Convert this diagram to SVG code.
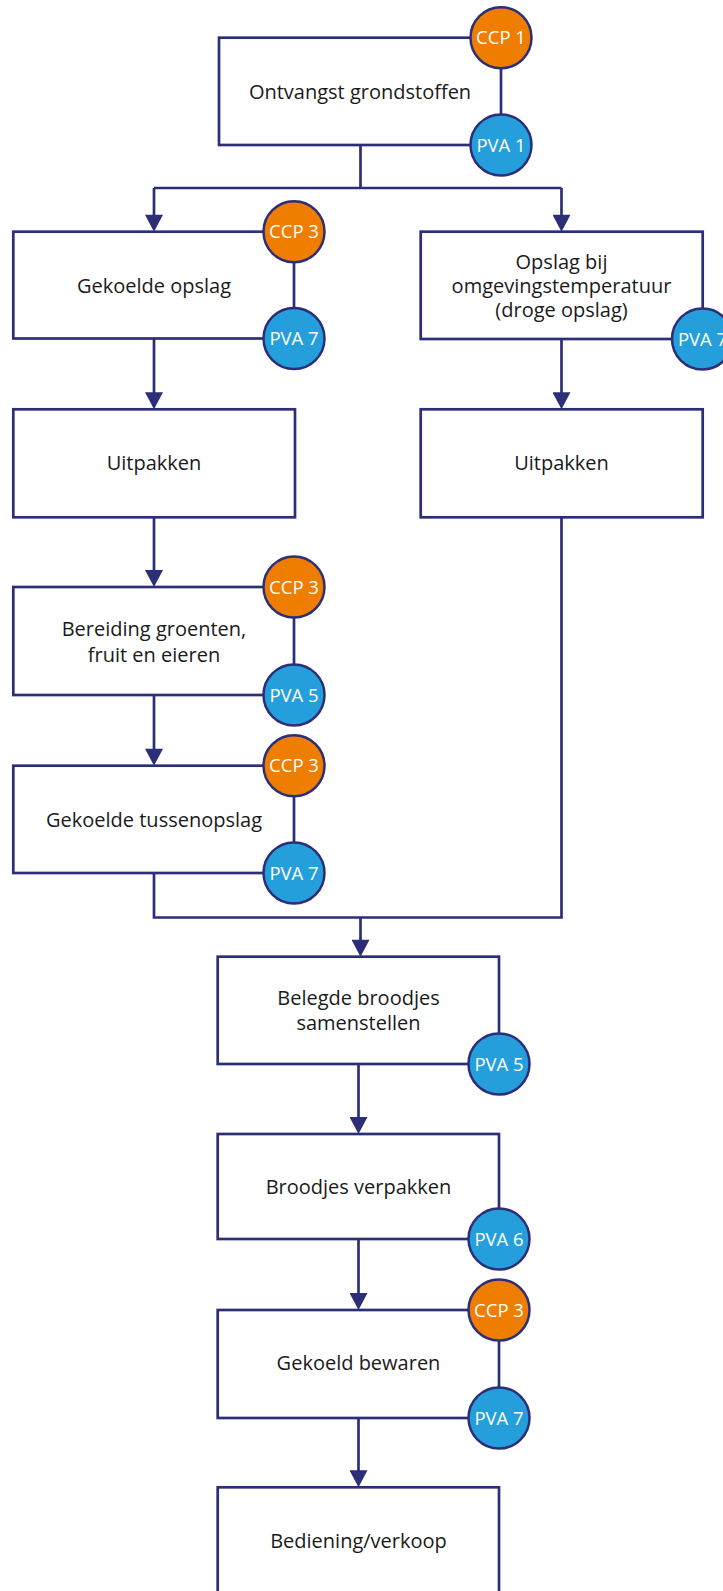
<svg xmlns="http://www.w3.org/2000/svg" width="723" height="1591" viewBox="0 0 723 1591">
<style>
.box{fill:#fff;stroke:#2c2e78;stroke-width:2.7}
.ln{fill:none;stroke:#2c2e78;stroke-width:2.7;marker-end:url(#ah)}
.ln2{fill:none;stroke:#2c2e78;stroke-width:2.7}
.ccp{fill:#ef7d00;stroke:#2c2e78;stroke-width:2.5}
.pva{fill:#249fdb;stroke:#2c2e78;stroke-width:2.5}
.t{font-family:"Open Sans","Liberation Sans",sans-serif;font-size:20px;fill:#1a1a1a;text-anchor:middle}
.c{font-family:"Open Sans","Liberation Sans",sans-serif;font-size:18.5px;fill:#fff;text-anchor:middle}
</style>
<defs>
<marker id="ah" markerUnits="userSpaceOnUse" markerWidth="18" markerHeight="18" viewBox="0 0 17 18" refX="13" refY="9" orient="auto">
<path d="M0,0 L17,9 L0,18 Z" fill="#2c2e78"/>
</marker>
</defs>
<rect width="723" height="1591" fill="#fff"/>
<g id="connectors">
<path class="ln2" d="M360.5,145 V188 M154,188 H561.5"/>
<path class="ln" d="M154,188 V227.7"/>
<path class="ln" d="M561.5,188 V227.7"/>
<path class="ln" d="M154,338.5 V405.3"/>
<path class="ln" d="M561.5,339 V405.3"/>
<path class="ln" d="M154,517.3 V583"/>
<path class="ln" d="M154,695 V761.7"/>
<path class="ln2" d="M154,873 V917.5 H561.5 V517.3"/>
<path class="ln" d="M360.5,917.5 V952.7"/>
<path class="ln" d="M358.5,1064 V1130"/>
<path class="ln" d="M358.5,1239 V1306"/>
<path class="ln" d="M358.5,1418 V1483.3"/>
</g>
<g id="n1">
<rect class="box" x="219" y="37.7" width="282" height="107.3"/>
<text class="t" x="360" y="98.5">Ontvangst grondstoffen</text>
<circle class="ccp" cx="501" cy="37.7" r="30.5"/><text class="c" x="501" y="44.2">CCP 1</text>
<circle class="pva" cx="501" cy="145" r="30.5"/><text class="c" x="501" y="151.5">PVA 1</text>
</g>
<g id="n2">
<rect class="box" x="13.3" y="231.7" width="280.7" height="106.8"/>
<text class="t" x="154" y="292.5">Gekoelde opslag</text>
<circle class="ccp" cx="294" cy="231.7" r="30.5"/><text class="c" x="294" y="238.2">CCP 3</text>
<circle class="pva" cx="294" cy="338.5" r="30.5"/><text class="c" x="294" y="345">PVA 7</text>
</g>
<g id="n3">
<rect class="box" x="420.7" y="231.7" width="282" height="107.3"/>
<text class="t" x="561.5" y="268.5">Opslag bij</text>
<text class="t" x="561.5" y="292.5">omgevingstemperatuur</text>
<text class="t" x="561.5" y="316.5">(droge opslag)</text>
<circle class="pva" cx="702.5" cy="339" r="30.5"/><text class="c" x="702.5" y="345.5">PVA 7</text>
</g>
<g id="n4">
<rect class="box" x="13.3" y="409.3" width="281.7" height="108"/>
<text class="t" x="154" y="470">Uitpakken</text>
</g>
<g id="n5">
<rect class="box" x="420.7" y="409.3" width="282" height="108"/>
<text class="t" x="561.5" y="470">Uitpakken</text>
</g>
<g id="n6">
<rect class="box" x="13.3" y="587" width="280.7" height="108"/>
<text class="t" x="154" y="635.5">Bereiding groenten,</text>
<text class="t" x="154" y="661.5">fruit en eieren</text>
<circle class="ccp" cx="294" cy="587" r="30.5"/><text class="c" x="294" y="593.5">CCP 3</text>
<circle class="pva" cx="294" cy="695" r="30.5"/><text class="c" x="294" y="701.5">PVA 5</text>
</g>
<g id="n7">
<rect class="box" x="13.3" y="765.7" width="280.7" height="107.3"/>
<text class="t" x="154" y="826.5">Gekoelde tussenopslag</text>
<circle class="ccp" cx="294" cy="765.7" r="30.5"/><text class="c" x="294" y="772.2">CCP 3</text>
<circle class="pva" cx="294" cy="873" r="30.5"/><text class="c" x="294" y="879.5">PVA 7</text>
</g>
<g id="n8">
<rect class="box" x="217.7" y="956.7" width="281.3" height="107.3"/>
<text class="t" x="358.5" y="1004.5">Belegde broodjes</text>
<text class="t" x="358.5" y="1029.5">samenstellen</text>
<circle class="pva" cx="499" cy="1064" r="30.5"/><text class="c" x="499" y="1070.5">PVA 5</text>
</g>
<g id="n9">
<rect class="box" x="217.7" y="1134" width="281.3" height="105"/>
<text class="t" x="358.5" y="1193.5">Broodjes verpakken</text>
<circle class="pva" cx="499" cy="1239" r="30.5"/><text class="c" x="499" y="1245.5">PVA 6</text>
</g>
<g id="n10">
<rect class="box" x="217.7" y="1310" width="281.3" height="108"/>
<text class="t" x="358.5" y="1369.5">Gekoeld bewaren</text>
<circle class="ccp" cx="499" cy="1310" r="30.5"/><text class="c" x="499" y="1316.5">CCP 3</text>
<circle class="pva" cx="499" cy="1418" r="30.5"/><text class="c" x="499" y="1424.5">PVA 7</text>
</g>
<g id="n11">
<rect class="box" x="217.7" y="1487.3" width="281.3" height="108"/>
<text class="t" x="358.5" y="1548">Bediening/verkoop</text>
</g>
</svg>
